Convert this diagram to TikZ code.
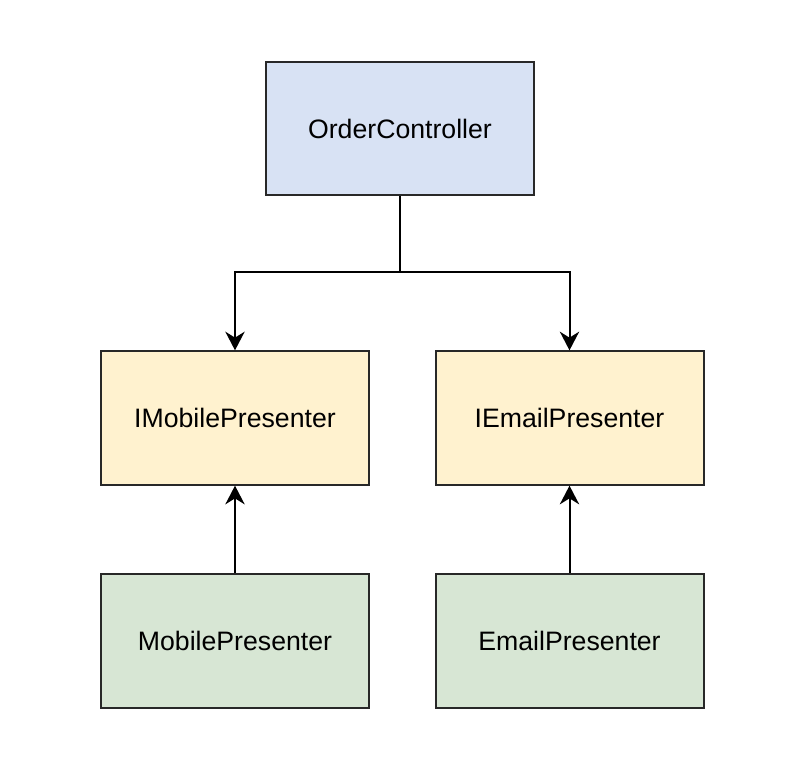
\documentclass[tikz,border=0pt]{standalone}
\usepackage{fontspec}
\setmainfont{Liberation Sans}
\usetikzlibrary{arrows.meta}

\definecolor{ctrlblue}{RGB}{216,226,244}
\definecolor{ifyellow}{RGB}{255,242,207}
\definecolor{implgreen}{RGB}{215,230,212}
\definecolor{edgegray}{RGB}{40,40,40}

\tikzset{
  classbox/.style={draw=edgegray, line width=1.5pt, minimum width=201pt, minimum height=100pt, inner sep=0pt, font=\fontsize{20}{24}\selectfont},
  link/.style={draw=black, line width=1.5pt, -{Stealth[length=14pt,width=14.5pt,inset=4.5pt]}}
}

\begin{document}
\begin{tikzpicture}[x=0.75pt,y=0.75pt,yscale=-1,xscale=1]
%set diagram canvas: 800 x 758
\useasboundingbox (0,0) rectangle (800,758);

% Controller
\node [classbox, fill=ctrlblue] (ctrl) at (400,128.5) {OrderController};

% Interfaces
\node [classbox, fill=ifyellow] (imobile) at (235,418) {IMobilePresenter};
\node [classbox, fill=ifyellow] (iemail) at (569.5,418) {IEmailPresenter};

% Implementations
\node [classbox, fill=implgreen] (mobile) at (235,641) {MobilePresenter};
\node [classbox, fill=implgreen] (email) at (569.5,641) {EmailPresenter};

% Connectors
\coordinate (split) at (400,272);
\draw [link] (ctrl.south) -- (split) -| (imobile.north);
\draw [link] (split) -| (iemail.north);
\draw [link] (mobile.north) -- (imobile.south);
\draw [link] (email.north) -- (iemail.south);

\end{tikzpicture}
\end{document}
